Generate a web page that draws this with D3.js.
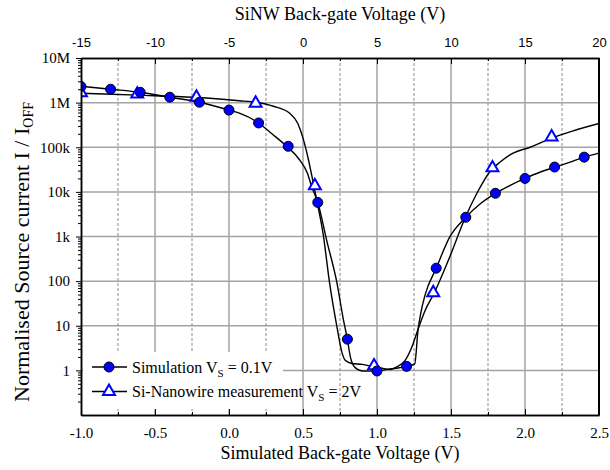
<!DOCTYPE html>
<html>
<head>
<meta charset="utf-8">
<script src="https://cdnjs.cloudflare.com/ajax/libs/d3/7.8.5/d3.min.js"></script>
<style>
  body { margin: 0; background: #fff; }
  .serif { font-family: "Liberation Serif", "DejaVu Serif", "Times New Roman", serif; }
  .sans { font-family: "Liberation Sans", Arial, sans-serif; }
</style>
</head>
<body>
<div id="graph"></div>
<script>
// simulated sweep (bottom axis, V) - markers
var simV = [-1.0, -0.8, -0.6, -0.4, -0.2, 0.0, 0.2, 0.4, 0.6, 0.8, 1.0, 1.2, 1.4, 1.6, 1.8, 2.0, 2.2, 2.4];
var simI = [2.3e6, 2.0e6, 1.7e6, 1.32e6, 1.02e6, 6.8e5, 3.5e5, 1.05e5, 5.8e3, 5, 0.97, 1.23, 195, 2.7e3, 9.3e3, 2.0e4, 3.6e4, 6.0e4];

// simulated curve (bottom axis, V)
var simLineV = [-1.0, -0.8, -0.6, -0.4, -0.2, 0.0, 0.07, 0.2, 0.29, 0.39, 0.47, 0.53, 0.56, 0.6, 0.66, 0.73, 0.77, 0.8, 0.82, 0.85, 0.9, 1.0, 1.07, 1.2, 1.255, 1.277, 1.297, 1.324, 1.4, 1.49, 1.6, 1.7, 1.8, 1.9, 2.0, 2.1, 2.2, 2.3, 2.4, 2.5];
var simLineI = [2.33e6, 2.0e6, 1.71e6, 1.32e6, 1.02e6, 6.8e5, 5.8e5, 3.5e5, 2.0e5, 1.05e5, 5.6e4, 2.6e4, 1.27e4, 5.8e3, 820, 89, 15.5, 4.9, 2.0, 1.17, 0.97, 0.96, 1.05, 1.23, 1.4, 7.9, 20, 48, 194, 960, 2.7e3, 5.5e3, 9.3e3, 1.4e4, 2.0e4, 2.75e4, 3.55e4, 4.6e4, 6.0e4, 7.4e4];

// SiNW measurement (top axis, V) - markers
var measV = [-15, -11.2, -7.2, -3.2, 0.8, 4.8, 8.8, 12.8, 16.8];
var measI = [1.65e6, 1.55e6, 1.32e6, 9.7e5, 1.37e4, 1.26, 55, 3.45e4, 1.7e5];

// SiNW measurement curve (top axis, V)
var measLineV = [-15, -11.2, -7.4, -4.3, -3.2, -2.0, -0.9, -0.35, 0, 0.35, 0.7, 1.0, 1.35, 1.8, 2.3, 2.65, 2.85, 3.3, 4.0, 4.5, 5.0, 5.4, 5.9, 6.4, 6.9, 7.35, 7.75, 8.25, 8.85, 9.9, 10.95, 11.75, 12.65, 13.3, 14.2, 15.35, 16.8, 18.2, 20];
var measLineI = [1.62e6, 1.47e6, 1.32e6, 1.1e6, 1.02e6, 8.3e5, 5.8e5, 3.4e5, 1.6e5, 5.6e4, 1.55e4, 5.0e3, 1.2e3, 89, 9.2, 2.4, 1.68, 1.43, 1.36, 1.26, 1.2, 1.1, 1.05, 1.23, 1.68, 3.3, 7.9, 22, 53, 340, 2.6e3, 9.3e3, 2.9e4, 4.6e4, 7.4e4, 1.0e5, 1.6e5, 2.3e5, 3.4e5];

// ticks
var bottomMajor = [-1.0, -0.5, 0.0, 0.5, 1.0, 1.5, 2.0, 2.5];
var bottomMinor = [-0.75, -0.25, 0.25, 0.75, 1.25, 1.75, 2.25];
var topMajor = [-15, -10, -5, 0, 5, 10, 15, 20];
var topMinor = [-12.5, -7.5, -2.5, 2.5, 7.5, 12.5, 17.5];
var yMajor = [1, 10, 100, 1e3, 1e4, 1e5, 1e6, 1e7];
var yLabels = ["1", "10", "100", "1k", "10k", "100k", "1M", "10M"];

var margin = { top: 58, right: 11, bottom: 55, left: 81 },
    width = 610 - margin.left - margin.right,
    height = 470 - margin.top - margin.bottom;

var svg = d3.select("#graph")
    .append("svg")
    .attr("width", 610)
    .attr("height", 470);

var g = svg.append("g")
    .attr("transform", "translate(" + margin.left + "," + margin.top + ")");

var x = d3.scaleLinear().domain([-1, 2.5]).range([0, width]);
var xTop = d3.scaleLinear().domain([-15, 20]).range([0, width]);
var y = d3.scaleLog().domain([0.1, 1e7]).range([height, 0]);

// minor log ticks
var yMinor = [];
[0.1, 1, 10, 100, 1e3, 1e4, 1e5, 1e6].forEach(function (p) {
    for (var k = 2; k <= 9; k++) yMinor.push(k * p);
});

// grid
g.selectAll(".hgrid")
    .data(yMajor.filter(function (d) { return d < 1e7; }))
    .enter().append("line")
    .attr("x1", 0).attr("x2", width)
    .attr("y1", function (d) { return y(d); })
    .attr("y2", function (d) { return y(d); })
    .attr("stroke", "#a3a3a3").attr("stroke-width", 1.5);

g.selectAll(".vgrid")
    .data(bottomMajor.slice(1, -1))
    .enter().append("line")
    .attr("x1", function (d) { return x(d); })
    .attr("x2", function (d) { return x(d); })
    .attr("y1", 0).attr("y2", height)
    .attr("stroke", "#a3a3a3").attr("stroke-width", 1.5);

g.selectAll(".vdash")
    .data(bottomMinor)
    .enter().append("line")
    .attr("x1", function (d) { return x(d); })
    .attr("x2", function (d) { return x(d); })
    .attr("y1", 0).attr("y2", height)
    .attr("stroke", "#8a8a8a").attr("stroke-width", 1)
    .attr("stroke-dasharray", "3,2");

// clip
svg.append("defs").append("clipPath").attr("id", "clip")
    .append("rect").attr("width", width).attr("height", height);

var plot = g.append("g").attr("clip-path", "url(#clip)");

var simLine = d3.line()
    .x(function (d, i) { return x(simLineV[i]); })
    .y(function (d) { return y(d); })
    .curve(d3.curveMonotoneX);

var measLine = d3.line()
    .x(function (d, i) { return xTop(measLineV[i]); })
    .y(function (d) { return y(d); })
    .curve(d3.curveMonotoneX);

plot.append("path")
    .attr("d", measLine(measLineI))
    .attr("fill", "none").attr("stroke", "#000").attr("stroke-width", 1.4);

plot.append("path")
    .attr("d", simLine(simLineI))
    .attr("fill", "none").attr("stroke", "#000").attr("stroke-width", 1.4);

var tri = d3.symbol().type(d3.symbolTriangle).size(62);

plot.selectAll(".tri")
    .data(measI)
    .enter().append("path")
    .attr("d", tri)
    .attr("transform", function (d, i) { return "translate(" + xTop(measV[i]) + "," + y(d) + ")"; })
    .attr("fill", "#fff").attr("stroke", "#0000ff").attr("stroke-width", 2);

plot.selectAll(".dot")
    .data(simI)
    .enter().append("circle")
    .attr("cx", function (d, i) { return x(simV[i]); })
    .attr("cy", function (d) { return y(d); })
    .attr("r", 5)
    .attr("fill", "#0000ff").attr("stroke", "#000").attr("stroke-width", 1);

// axes
function styleAxis(sel, cls, size) {
    sel.attr("font-family", null).attr("class", cls);
    sel.select(".domain").attr("stroke", "#000").attr("stroke-width", 1.5);
    sel.selectAll(".tick line").attr("stroke", "#000").attr("stroke-width", 1);
    sel.selectAll("text").attr("font-size", size).attr("fill", "#000");
}

g.append("g")
    .attr("transform", "translate(0," + height + ")")
    .call(d3.axisBottom(x).tickValues(bottomMajor)
        .tickFormat(function (d) { return d.toFixed(1); })
        .tickSizeInner(-6).tickSizeOuter(0).tickPadding(12))
    .call(styleAxis, "serif", 15);

g.append("g")
    .attr("transform", "translate(0," + height + ")")
    .call(d3.axisBottom(x).tickValues(bottomMinor).tickFormat("")
        .tickSizeInner(-3).tickSizeOuter(0))
    .call(styleAxis, "serif", 15);

g.append("g")
    .call(d3.axisTop(xTop).tickValues(topMajor)
        .tickFormat(function (d) { return String(d); })
        .tickSizeInner(-6).tickSizeOuter(0).tickPadding(11))
    .call(styleAxis, "sans", 13);

g.append("g")
    .call(d3.axisTop(xTop).tickValues(topMinor).tickFormat("")
        .tickSizeInner(-3).tickSizeOuter(0))
    .call(styleAxis, "sans", 13);

g.append("g")
    .call(d3.axisLeft(y).tickValues(yMajor)
        .tickFormat(function (d, i) { return yLabels[i]; })
        .tickSizeInner(5).tickSizeOuter(0).tickPadding(6))
    .call(styleAxis, "serif", 15);

g.append("g")
    .call(d3.axisLeft(y).tickValues(yMinor).tickFormat("")
        .tickSizeInner(3).tickSizeOuter(0))
    .call(styleAxis, "serif", 15);

// right frame
g.append("line")
    .attr("x1", width).attr("x2", width)
    .attr("y1", 0).attr("y2", height)
    .attr("stroke", "#000").attr("stroke-width", 2);

// axis titles
svg.append("text")
    .attr("class", "serif")
    .attr("x", margin.left + width / 2).attr("y", 459)
    .attr("text-anchor", "middle")
    .attr("font-size", 18)
    .text("Simulated Back-gate Voltage (V)");

svg.append("text")
    .attr("class", "serif")
    .attr("x", margin.left + width / 2).attr("y", 20)
    .attr("text-anchor", "middle")
    .attr("font-size", 18)
    .text("SiNW Back-gate Voltage (V)");

var yt = svg.append("text")
    .attr("class", "serif")
    .attr("transform", "translate(29,252) rotate(-90)")
    .attr("text-anchor", "middle")
    .attr("font-size", 22);
yt.append("tspan").text("Normalised Source current I / I");
yt.append("tspan").attr("dy", 4).attr("font-size", 14).text("OFF");

// legend
var leg = svg.append("g");
leg.append("rect")
    .attr("x", 83).attr("y", 352).attr("width", 200).attr("height", 57)
    .attr("fill", "#fff");

var legItems = [
    { label: "Simulation V", sub: "S", rest: " = 0.1V", type: "circle" },
    { label: "Si-Nanowire measurement V", sub: "S", rest: " = 2V", type: "tri" }
];

legItems.forEach(function (it, i) {
    var ly = 367 + i * 24.5;
    leg.append("line")
        .attr("x1", 92).attr("x2", 127).attr("y1", ly).attr("y2", ly)
        .attr("stroke", "#000").attr("stroke-width", 1.4);
    if (it.type === "circle") {
        leg.append("circle").attr("cx", 109).attr("cy", ly).attr("r", 5)
            .attr("fill", "#0000ff").attr("stroke", "#000").attr("stroke-width", 1);
    } else {
        leg.append("path").attr("d", tri)
            .attr("transform", "translate(109," + ly + ")")
            .attr("fill", "#fff").attr("stroke", "#0000ff").attr("stroke-width", 2);
    }
    var t = leg.append("text")
        .attr("class", "serif")
        .attr("x", 132).attr("y", ly + 5.5)
        .attr("font-size", 16);
    t.append("tspan").text(it.label);
    t.append("tspan").attr("dy", 4).attr("font-size", 11).text(it.sub);
    t.append("tspan").attr("dy", -4).text(it.rest);
});
</script>
</body>
</html>
